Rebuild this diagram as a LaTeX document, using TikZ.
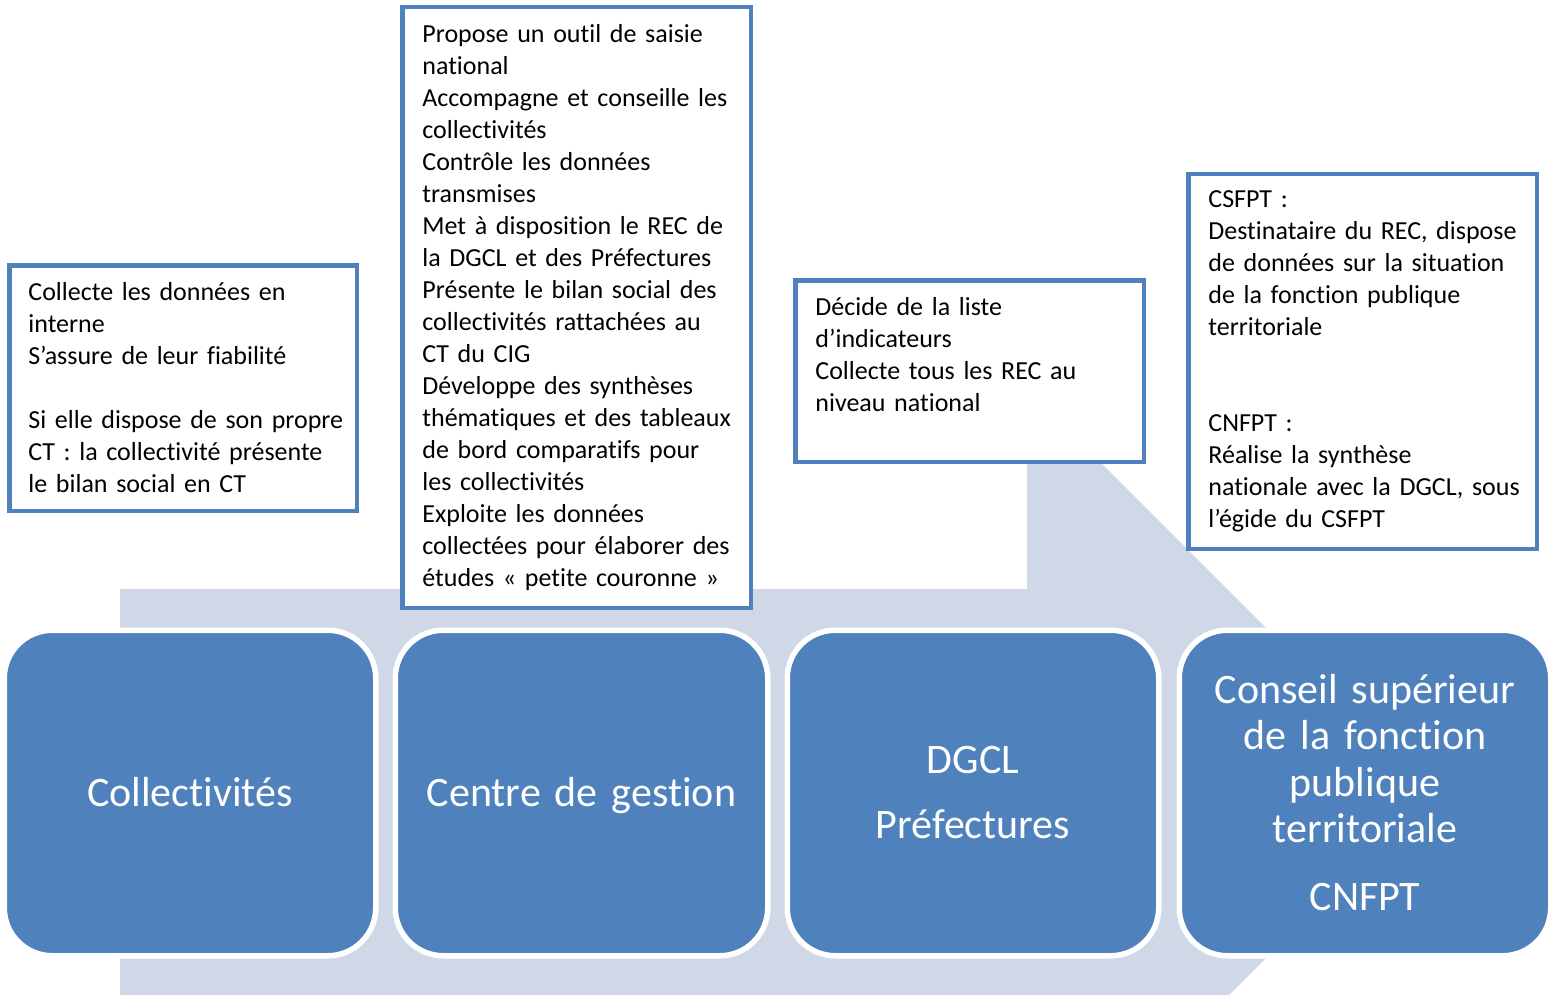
\documentclass[tikz,border=0pt]{standalone}
\usepackage{fontspec}
\setmainfont{Carlito}[Ligatures=NoCommon]
\definecolor{boxblue}{HTML}{4F81BD}
\definecolor{arrowfill}{HTML}{D0D8E8}
\begin{document}
\begin{tikzpicture}[x=0.5pt,y=-0.5pt,
  stage/.style={fill=boxblue, draw=white, line width=2.75pt, rounded corners=24pt},
  stagetext/.style={text=white, font=\fontsize{21}{23.3}\selectfont, align=center, inner sep=0pt, text width=175pt, anchor=base},
  infobox/.style={fill=white, draw=boxblue, line width=2.25pt},
  infotext/.style={font=\fontsize{13}{16}\selectfont, align=left, inner sep=0pt, anchor=base west, text width=168pt}
]
\useasboundingbox (0,0) rectangle (1548,995);
\clip (0,0) rectangle (1548,995);
% background arrow
\fill[arrowfill] (120,589) -- (1027,589) -- (1027,389) -- (1431,793) -- (1027,1197) -- (1027,997) -- (120,997) -- cycle;
% stages
\draw[stage] (4.25,630.25) rectangle (375.75,955.75);
\draw[stage] (395.25,630.25) rectangle (767.75,955.75);
\draw[stage] (787.25,630.25) rectangle (1158.75,955.75);
\draw[stage] (1179.25,630.25) rectangle (1550.75,955.75);
\node[stagetext] (s1) at (190,806) {Collectivités};
\node[stagetext] (s2) at (581.5,806) {Centre de gestion};
\node[stagetext] (s3) at (973,773) {DGCL\\[9.2pt]Préfectures};
\node[stagetext] (s4) at (1365,703) {Conseil supérieur\\de la fonction\\publique\\territoriale\\[10.5pt]CNFPT};
% info boxes
\draw[infobox] (9.25,265.25) rectangle (356.75,510.75);
\draw[infobox] (402.25,7.25) rectangle (750.75,607.75);
\draw[infobox] (795.25,280.25) rectangle (1143.75,461.75);
\draw[infobox] (1188.25,174.25) rectangle (1536.75,548.75);
\node[infotext] (t1) at (28,300) {Collecte les données en\\interne\\S’assure de leur fiabilité\\[16pt]Si elle dispose de son propre\\CT : la collectivité présente\\le bilan social en CT};
\node[infotext] (t2) at (422,42.5) {Propose un outil de saisie\\national\\Accompagne et conseille les\\collectivités\\Contrôle les données\\transmises\\Met à disposition le REC de\\la DGCL et des Préfectures\\Présente le bilan social des\\collectivités rattachées au\\CT du CIG\\Développe des synthèses\\thématiques et des tableaux\\de bord comparatifs pour\\les collectivités\\Exploite les données\\collectées pour élaborer des\\études « petite couronne »};
\node[infotext] (t3) at (815,315.5) {Décide de la liste\\d’indicateurs\\Collecte tous les REC au\\niveau national};
\node[infotext] (t4) at (1208,207.5) {CSFPT :\\Destinataire du REC, dispose\\de données sur la situation\\de la fonction publique\\territoriale\\[32pt]CNFPT :\\Réalise la synthèse\\nationale avec la DGCL, sous\\l’égide du CSFPT};
\end{tikzpicture}
\end{document}
